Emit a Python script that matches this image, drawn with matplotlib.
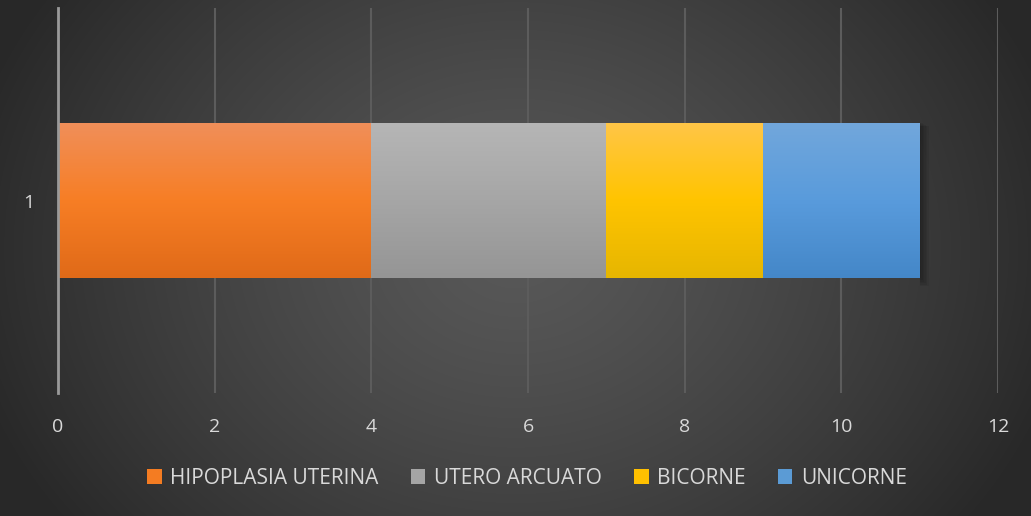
import numpy as np
import matplotlib
matplotlib.use("Agg")
import matplotlib.pyplot as plt
from matplotlib.patches import Patch
from matplotlib.colors import LinearSegmentedColormap

categories = ["1"]
series_names = ["HIPOPLASIA UTERINA", "UTERO ARCUATO", "BICORNE", "UNICORNE"]
series_values = [4, 3, 2, 2]
xticks = [0, 2, 4, 6, 8, 10, 12]

# gradient colours (top, middle, bottom)
grad_colors = [
    ["#F08F5A", "#F77E25", "#E06A18"],
    ["#B6B6B6", "#A6A6A6", "#959595"],
    ["#FFC648", "#FFC400", "#E6B600"],
    ["#72A7DB", "#599BDC", "#4487C8"],
]
solid_colors = ["#F47C22", "#A5A5A5", "#FFC000", "#5B9BD5"]

plt.rcParams['font.family'] = ['Open Sans', 'DejaVu Sans']

fig = plt.figure(figsize=(10.31, 5.16), dpi=100)

# radial gradient background
bg = fig.add_axes([0, 0, 1, 1], zorder=-10)
W, H = 1031, 516
yy, xx = np.mgrid[0:H, 0:W]
cx, cy = W * 0.5, H * 0.48
r = np.sqrt(((xx - cx) / (W * 0.55)) ** 2 + ((yy - cy) / (H * 0.9)) ** 2)
r = np.clip(r, 0, 1)
c_in, c_out = 0x58 / 255, 0x28 / 255
v = c_in + (c_out - c_in) * r ** 1.3
img = np.dstack([v, v, v])
bg.imshow(img, aspect='auto', extent=[0, 1, 0, 1], origin='upper')
bg.axis('off')

ax = fig.add_axes([58 / 1031, 1 - 393 / 516, (998 - 58) / 1031, (393 - 8) / 516])
ax.patch.set_alpha(0)
ax.set_xlim(0, 12)
ax.set_ylim(0.5, 1.5)

ypos = np.arange(1, len(categories) + 1)
left = 0
bars = []
for name, val, gc, sc in zip(series_names, series_values, grad_colors, solid_colors):
    b = ax.barh(ypos, [val], left=left, height=0.405, color=sc, zorder=3, label=name)
    bars.append(b)
    left += val

for b, gc in zip(bars, grad_colors):
    for p in b.patches:
        x0, y0 = p.get_x(), p.get_y()
        w, h = p.get_width(), p.get_height()
        cmap = LinearSegmentedColormap.from_list("g", gc[::-1])
        grad = np.linspace(0, 1, 256).reshape(-1, 1)
        im = ax.imshow(grad, cmap=cmap, aspect='auto', origin='lower',
                       extent=[x0, x0 + w, y0, y0 + h], zorder=4)
        im.set_clip_path(p)

# soft shadow on right edge of last bar
last = bars[-1].patches[0]
xe = last.get_x() + last.get_width()
for i in range(6):
    ax.fill_betweenx([last.get_y() - 0.004 * i, last.get_y() + last.get_height() - 0.002 * i],
                     xe, xe + 0.02 * (i + 1), color='black', alpha=0.06, zorder=2, lw=0)

ax.set_xlim(0, 12)
ax.set_ylim(0.5, 1.5)

ax.set_xticks(xticks)
ax.set_xticklabels([str(t) for t in xticks])
ax.set_yticks(ypos)
ax.set_yticklabels(categories)
ax.grid(axis='x', color='#5C5C5C', lw=1.5, zorder=1)
ax.set_axisbelow(True)
for s in ['top', 'right', 'bottom']:
    ax.spines[s].set_visible(False)
ax.spines['left'].set_color('#9A9A9A')
ax.spines['left'].set_linewidth(2)
ax.spines['left'].set_zorder(5)
ax.tick_params(axis='both', length=0, colors='#D9D9D9', labelsize=14)
ax.tick_params(axis='x', pad=18)
ax.tick_params(axis='y', pad=17)

handles = [Patch(facecolor=c, edgecolor='none') for c in solid_colors]
leg = fig.legend(handles, series_names, loc='center', bbox_to_anchor=(527 / 1031, 1 - 478 / 516),
                 ncol=4, frameon=False, fontsize=15, labelcolor='#D9D9D9',
                 handlelength=0.7, handleheight=0.7, handletextpad=0.4, columnspacing=1.55)

fig.savefig("out.png", dpi=100)
